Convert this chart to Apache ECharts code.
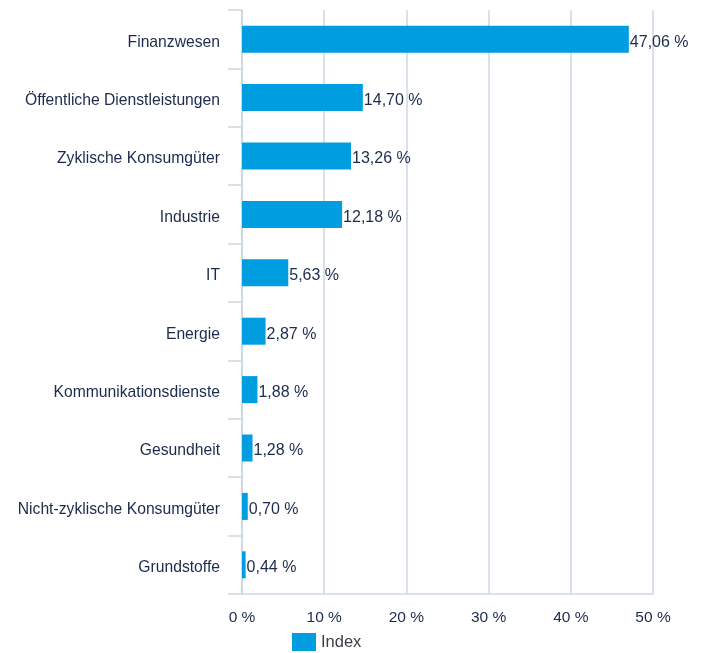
<!DOCTYPE html>
<html>
<head>
<meta charset="utf-8">
<script src="https://cdn.jsdelivr.net/npm/echarts@6/dist/echarts.min.js"></script>
<style>
  html, body { margin: 0; padding: 0; background: #fff; }
  #main { width: 703px; height: 653px; }
</style>
</head>
<body>
<div id="main"></div>
<script>
var categories = ['Finanzwesen', 'Öffentliche Dienstleistungen', 'Zyklische Konsumgüter', 'Industrie', 'IT',
  'Energie', 'Kommunikationsdienste', 'Gesundheit', 'Nicht-zyklische Konsumgüter', 'Grundstoffe'];
var indexValues = [47.06, 14.70, 13.26, 12.18, 5.63, 2.87, 1.88, 1.28, 0.70, 0.44];
var seriesName = 'Index';

var chart = echarts.init(document.getElementById('main'));
var textColor = '#1c2b4b';
var lineColor = '#cdd7e4';

var option = {
  animation: false,
  textStyle: { fontFamily: 'Liberation Sans, Arial, sans-serif' },
  grid: { left: 242, right: 50, top: 10, bottom: 59 },
  legend: {
    data: [seriesName],
    left: 287,
    top: 628,
    icon: 'rect',
    itemWidth: 24,
    itemHeight: 18,
    itemGap: 8,
    textStyle: { fontSize: 16.5, color: '#3a3f48' }
  },
  xAxis: {
    type: 'value',
    min: 0,
    max: 50,
    interval: 10,
    axisLine: { show: true, lineStyle: { color: lineColor, width: 1.5 } },
    axisTick: { show: false },
    splitLine: { show: true, lineStyle: { color: lineColor, width: 1.5 } },
    axisLabel: {
      formatter: '{value} %',
      color: textColor,
      fontSize: 15.5,
      margin: 16
    }
  },
  yAxis: {
    type: 'category',
    inverse: true,
    data: categories,
    axisLine: { show: true, lineStyle: { color: lineColor, width: 1.5 } },
    axisTick: { show: true, length: 14, interval: 0, lineStyle: { color: lineColor, width: 1.5 } },
    axisLabel: {
      margin: 22,
      formatter: '{c|{value}}',
      rich: { c: { color: textColor, fontSize: 15.7, padding: [6, 0, 0, 0] } }
    },
    splitLine: { show: false }
  },
  series: [{
    name: seriesName,
    type: 'bar',
    data: indexValues,
    barWidth: 27,
    itemStyle: { color: '#009ee0' },
    label: {
      show: true,
      position: 'right',
      distance: 1,
      offset: [0, 3],
      color: textColor,
      fontSize: 16,
      formatter: function (p) { return p.value.toFixed(2).replace('.', ',') + ' %'; }
    }
  }]
};

chart.setOption(option);
</script>
</body>
</html>
